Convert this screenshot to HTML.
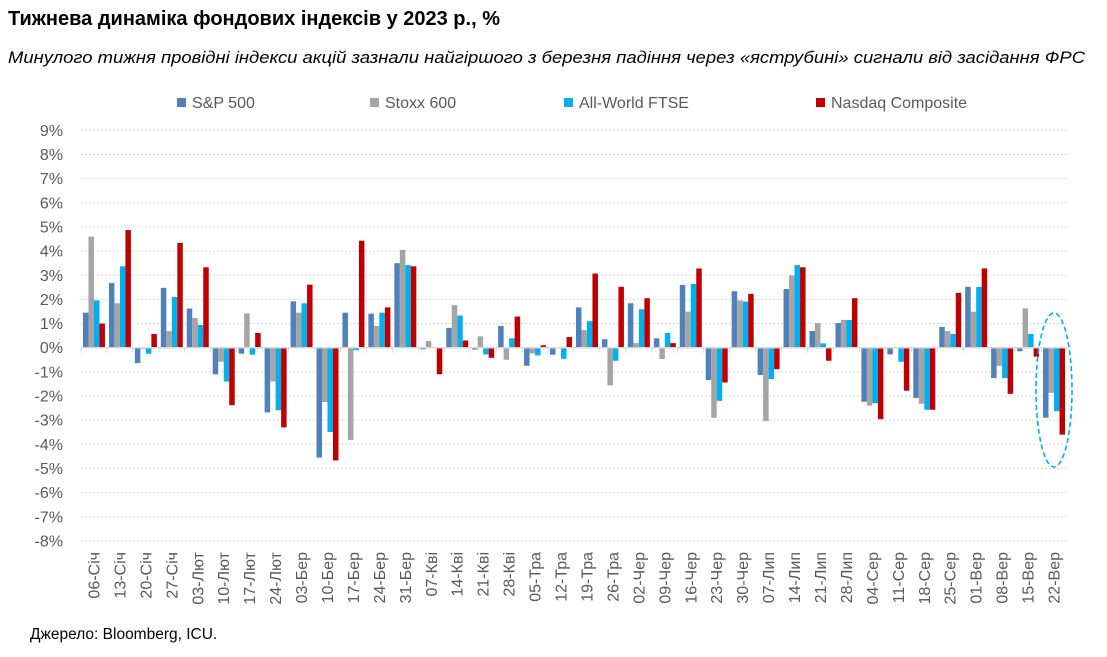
<!DOCTYPE html>
<html><head><meta charset="utf-8"><style>
body{margin:0;background:#fff;width:1107px;height:652px;overflow:hidden;font-family:"Liberation Sans",Arial,sans-serif}
svg text{font-family:"Liberation Sans",Arial,sans-serif}
</style></head><body>
<svg id="c" width="1107" height="652" xmlns="http://www.w3.org/2000/svg">
<text x="8" y="25" font-size="20" font-weight="bold" fill="#000" textLength="492" lengthAdjust="spacingAndGlyphs">Тижнева динаміка фондових індексів у 2023 р., %</text>
<text x="8" y="63" font-size="16.5" font-style="italic" fill="#000" textLength="1077" lengthAdjust="spacingAndGlyphs">Минулого тижня провідні індекси акцій зазнали найгіршого з березня падіння через «яструбині» сигнали від засідання ФРС</text>
<rect x="177" y="98" width="9" height="9" fill="#4f81bd"/><text x="192" y="108" font-size="16" fill="#595959">S&amp;P 500</text>
<rect x="370" y="98" width="9" height="9" fill="#a5a5a5"/><text x="385" y="108" font-size="16" fill="#595959">Stoxx 600</text>
<rect x="564" y="98" width="9" height="9" fill="#00b0f0"/><text x="579" y="108" font-size="16" fill="#595959">All-World FTSE</text>
<rect x="816" y="98" width="9" height="9" fill="#c00000"/><text x="831" y="108" font-size="16" fill="#595959">Nasdaq Composite</text>
<text x="30" y="639" font-size="15.5" fill="#000">Джерело: Bloomberg, ICU.</text>
<g id="g"></g>
<ellipse cx="1054" cy="390" rx="18" ry="77" fill="none" stroke="#00b0f0" stroke-width="1.6" stroke-dasharray="5,3"/>
</svg>
<script>
var labs=["06-Січ","13-Січ","20-Січ","27-Січ","03-Лют","10-Лют","17-Лют","24-Лют","03-Бер","10-Бер","17-Бер","24-Бер","31-Бер","07-Кві","14-Кві","21-Кві","28-Кві","05-Тра","12-Тра","19-Тра","26-Тра","02-Чер","09-Чер","16-Чер","23-Чер","30-Чер","07-Лип","14-Лип","21-Лип","28-Лип","04-Сер","11-Сер","18-Сер","25-Сер","01-Вер","08-Вер","15-Вер","22-Вер"];
var d=[[1.45,4.6,1.96,1.0],[2.68,1.84,3.37,4.87],[-0.64,-0.05,-0.25,0.57],[2.48,0.69,2.1,4.34],[1.62,1.23,0.94,3.33],[-1.1,-0.58,-1.4,-2.38],[-0.25,1.42,-0.29,0.61],[-2.68,-1.4,-2.59,-3.3],[1.92,1.45,1.84,2.61],[-4.55,-2.25,-3.49,-4.67],[1.45,-3.82,-0.1,4.43],[1.41,0.9,1.45,1.67],[3.5,4.05,3.42,3.37],[-0.07,0.28,0,-1.1],[0.82,1.76,1.33,0.3],[-0.08,0.47,-0.28,-0.42],[0.9,-0.5,0.39,1.29],[-0.75,-0.24,-0.32,0.1],[-0.29,0,-0.46,0.44],[1.67,0.73,1.1,3.07],[0.35,-1.56,-0.54,2.52],[1.84,0.19,1.59,2.05],[0.39,-0.47,0.61,0.19],[2.6,1.49,2.64,3.28],[-1.34,-2.9,-2.2,-1.44],[2.34,1.96,1.91,2.23],[-1.13,-3.04,-1.3,-0.89],[2.43,2.99,3.42,3.33],[0.69,1.02,0.18,-0.54],[1.02,1.15,1.15,2.05],[-2.24,-2.4,-2.3,-2.96],[-0.28,0,-0.58,-1.78],[-2.08,-2.32,-2.57,-2.57],[0.86,0.69,0.57,2.27],[2.52,1.49,2.52,3.28],[-1.26,-0.75,-1.26,-1.91],[-0.15,1.63,0.57,-0.37],[-2.9,-1.87,-2.63,-3.6]];
var col=["#4f81bd","#a5a5a5","#00b0f0","#c00000"];
var x0=81,x1=1067,z=347.7,u=24.15,cw=(x1-x0)/38,s="";
for(var v=9;v>=-8;v--){var y=z-v*u;
 if(v!=0)s+='<line x1="'+x0+'" x2="'+x1+'" y1="'+y+'" y2="'+y+'" stroke="#d9d9d9" stroke-width="1" stroke-dasharray="2,2"/>';
 s+='<text x="63" y="'+(y+5.5)+'" font-size="16" text-anchor="end" fill="#595959">'+v+'%</text>';}
for(var i=0;i<38;i++){var cx=x0+i*cw,bw=5.5,st=cx+(cw-4*bw)/2;
 for(var k=0;k<4;k++){var val=d[i][k],h=Math.abs(val)*u,y=val>=0?z-h:z;
  s+='<rect x="'+(st+k*bw).toFixed(2)+'" y="'+y.toFixed(2)+'" width="'+bw+'" height="'+h.toFixed(2)+'" fill="'+col[k]+'"/>';}
 s+='<line x1="'+cx+'" x2="'+cx+'" y1="'+z+'" y2="'+(z+5)+'" stroke="#d9d9d9"/>';
 var lx=cx+cw/2+5.5;
 s+='<text transform="translate('+lx+',552) rotate(-90)" font-size="16" text-anchor="end" fill="#595959">'+labs[i]+'</text>';}
s+='<line x1="'+x1+'" x2="'+x1+'" y1="'+z+'" y2="'+(z+5)+'" stroke="#d9d9d9"/>';
s+='<line x1="'+x0+'" x2="'+x1+'" y1="'+z+'" y2="'+z+'" stroke="#d9d9d9" stroke-width="1.5"/>';
document.getElementById("g").innerHTML=s;
</script>
</body></html>
